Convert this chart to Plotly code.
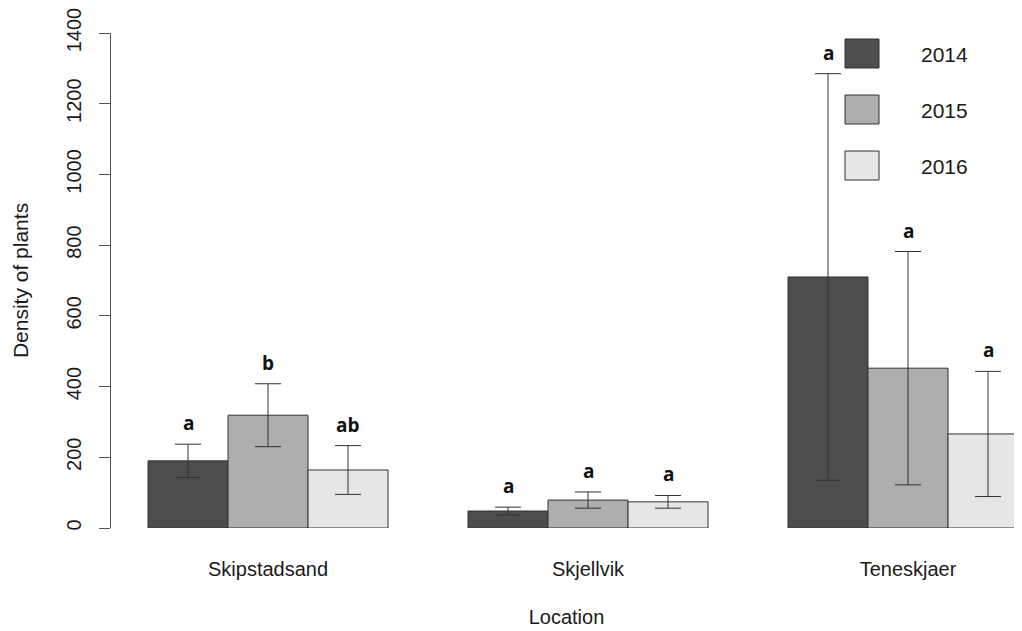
import plotly.graph_objects as go

locations = ["Skipstadsand", "Skjellvik", "Teneskjaer"]
years = ["2014", "2015", "2016"]
colors = ["#4D4D4D", "#AEAEAE", "#E6E6E6"]

# mean density per year (rows) and location (columns)
means = {
    "2014": [190, 48, 710],
    "2015": [319, 79, 452],
    "2016": [164, 74, 266],
}
errors = {
    "2014": [47, 11, 575],
    "2015": [89, 23, 330],
    "2016": [69, 18, 177],
}
letters = {
    "2014": ["a", "a", "a"],
    "2015": ["b", "a", "a"],
    "2016": ["ab", "a", "a"],
}
ytick_values = [0, 200, 400, 600, 800, 1000, 1200, 1400]

OFF = 8  # page body margin
W, H = 1022 - OFF, 631 - OFF
L, R, T = 111 - OFF, 0, 33 - OFF
B = H - (528 - OFF)
XR = [0.5375, 11.925]
YR = [0, 1400]


def px2x(px):
    px -= OFF
    return XR[0] + (px - L) / (W - L - R) * (XR[1] - XR[0])


def py2y(py):
    py -= OFF
    return YR[0] + (H - B - py) / (H - T - B) * (YR[1] - YR[0])


fig = go.Figure()
annotations = []
for i, yr in enumerate(years):
    xs = [1 + 4 * g + i + 0.5 for g in range(len(locations))]
    fig.add_trace(go.Bar(
        x=xs, y=means[yr], width=1, name=yr,
        marker=dict(color=colors[i], line=dict(color="#333333", width=1)),
        error_y=dict(type="data", array=errors[yr], symmetric=True,
                     color="#333333", thickness=1, width=13),
        showlegend=False,
    ))
    for x, m, e, lt in zip(xs, means[yr], errors[yr], letters[yr]):
        annotations.append(dict(
            x=x, y=m + e, text=lt, showarrow=False, yanchor="bottom",
            yshift=6, font=dict(family="Open Sans", size=19, color="#111111", weight="bold"),
        ))

# legend drawn as boxes and labels
shapes = []
box_tops = [39, 95, 151]
for i, yr in enumerate(years):
    top = box_tops[i]
    shapes.append(dict(
        type="rect", xref="x", yref="y",
        x0=px2x(845), x1=px2x(879), y0=py2y(top), y1=py2y(top + 29),
        fillcolor=colors[i], line=dict(color="#333333", width=1), layer="above",
    ))
    annotations.append(dict(
        x=px2x(919), y=py2y(top + 15), text=yr, showarrow=False,
        xanchor="left", yanchor="middle",
        font=dict(family="Liberation Sans", size=21, color="#1a1a1a"),
    ))

fig.update_layout(
    width=W, height=H,
    margin=dict(l=L, r=R, t=T, b=B),
    paper_bgcolor="white", plot_bgcolor="white",
    barmode="overlay",
    shapes=shapes, annotations=annotations,
    font=dict(family="Liberation Sans", size=20, color="#1a1a1a"),
    xaxis=dict(
        range=XR, showgrid=False, zeroline=False, showline=False,
        tickvals=[1 + 4 * g + 1.5 for g in range(len(locations))],
        ticktext=locations, ticks="", ticklabelstandoff=27,
        tickfont=dict(size=20),
        title=dict(text="Location", font=dict(size=20), standoff=30),
    ),
    yaxis=dict(
        range=YR, showgrid=False, zeroline=False,
        showline=True, linecolor="#555555", linewidth=1,
        ticks="outside", ticklen=11, tickcolor="#555555", tickwidth=1,
        tickvals=ytick_values, ticktext=[str(v) for v in ytick_values],
        tickangle=-90, tickfont=dict(size=20), ticklabelstandoff=10,
        ticklabeloverflow="allow",
        title=dict(text="Density of plants", font=dict(size=21), standoff=28),
    ),
)

fig.write_html("out.html")
